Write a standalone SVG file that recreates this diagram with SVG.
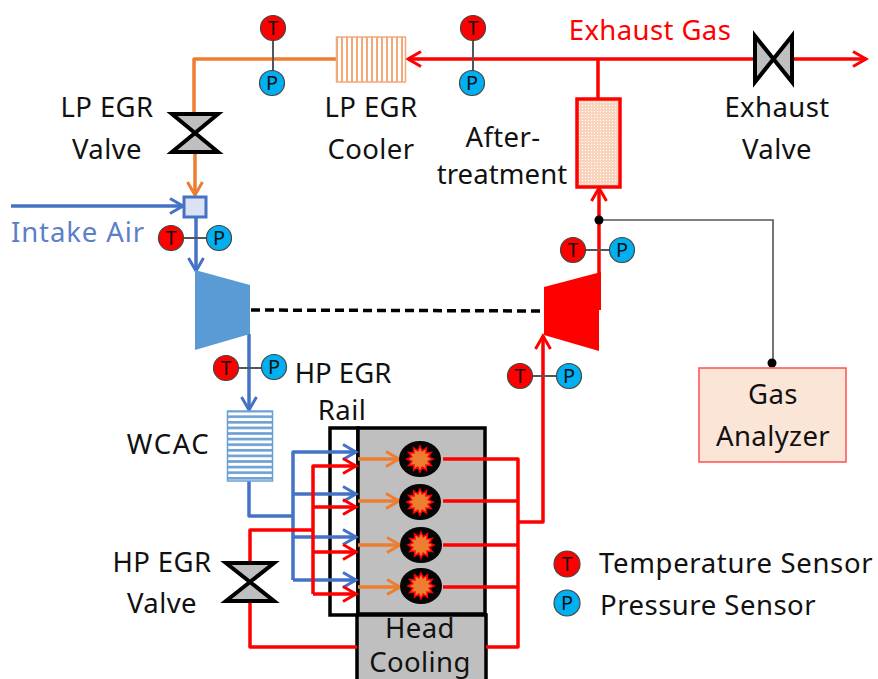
<svg xmlns="http://www.w3.org/2000/svg" width="878" height="679" viewBox="0 0 878 679">
<style>
text{font-family:"Noto Sans","Open Sans","Liberation Sans",sans-serif;font-size:27.5px;letter-spacing:.4px;fill:#111;text-anchor:middle}
.s{font-size:20px;letter-spacing:0}
.r{fill:#f00}.b{fill:#5b80c8;letter-spacing:.9px}
.T{fill:#f00;stroke:#444;stroke-width:1.2}
.P{fill:#00b0f0;stroke:#444;stroke-width:1.2}
.tie{stroke:#555;stroke-width:2;fill:none}
.valve{fill:#bfbfbf;stroke:#000;stroke-width:4;stroke-linejoin:miter}
.red,.blue,.org{fill:none;stroke-width:3.5;stroke-linejoin:round}
.red{stroke:#f00}.blue{stroke:#4472c4}.org{stroke:#ed7d31}
.ra{marker-end:url(#ar)}.ba{marker-end:url(#ab)}.oa{marker-end:url(#ao)}
.cyl{fill:#050505}
.burst{fill:#ed7d31;stroke:#f00;stroke-width:1.500}
.blk{fill:#bfbfbf;stroke:#000;stroke-width:3.5}
</style>
<defs>
<marker id="ar" markerUnits="userSpaceOnUse" markerWidth="20" markerHeight="20" refX="15" refY="10" orient="auto"><path d="M2,2.500 L15,10 L2,17.500" fill="none" stroke="#f00" stroke-width="3"/></marker>
<marker id="ab" markerUnits="userSpaceOnUse" markerWidth="20" markerHeight="20" refX="15" refY="10" orient="auto"><path d="M2,2.500 L15,10 L2,17.500" fill="none" stroke="#4472c4" stroke-width="3"/></marker>
<marker id="ao" markerUnits="userSpaceOnUse" markerWidth="20" markerHeight="20" refX="15" refY="10" orient="auto"><path d="M2,2.500 L15,10 L2,17.500" fill="none" stroke="#ed7d31" stroke-width="3"/></marker>
<pattern id="hv" width="5" height="10" patternUnits="userSpaceOnUse"><rect width="5" height="10" fill="#fff"/><rect x="1" width="2" height="10" fill="#f4a878"/></pattern>
<pattern id="hh" width="10" height="5.6" patternUnits="userSpaceOnUse"><rect width="10" height="5.6" fill="#fff"/><rect y="1" width="10" height="2.6" fill="#6a9fd6"/></pattern>
<pattern id="dot" width="3" height="3" patternUnits="userSpaceOnUse"><rect width="3" height="3" fill="#f9d5bd"/><rect width="1" height="1" fill="#fff"/></pattern>
<polygon id="star" points="13,0 8.2,2.2 11.3,6.500 6,6 6.500,11.3 2.2,8.2 0,13 -2.2,8.2 -6.500,11.3 -6,6 -11.3,6.500 -8.2,2.2 -13,0 -8.2,-2.2 -11.3,-6.500 -6,-6 -6.500,-11.3 -2.2,-8.2 0,-13 2.2,-8.2 6.500,-11.3 6,-6 11.3,-6.500 8.2,-2.2"/>
</defs>

<g id="engine">
<rect x="330" y="428" width="28" height="187" fill="#fff" stroke="#000" stroke-width="3.5"/>
<rect class="blk" x="358" y="428" width="127" height="186"/>
</g>
<g id="head">
<rect class="blk" x="357" y="615" width="129" height="70"/>
<text x="420" y="638">Head</text>
<text x="420" y="672">Cooling</text>
</g>

<g id="connectors">
<path class="org" d="M336,59H194V114"/>
<path class="org oa" d="M195,152V195"/>
<path class="blue ba" d="M11,206H183"/>
<path class="blue ba" d="M196,218V271"/>
<path class="blue ba" d="M249,334V410"/>
<path d="M251,310L545,311" fill="none" stroke="#000" stroke-width="3.5" stroke-dasharray="9,5"/>
<path class="red ra" d="M754,59H408"/>
<path class="red" d="M598,59V98"/>
<path class="red ra" d="M793,59H866"/>
<path class="red ra" d="M599,310V188"/>
<path class="red ra" d="M518,522H543V336"/>
<path class="blue" d="M249,481V516H293"/>
<path class="blue ba" d="M293,580V452H356"/>
<path class="blue ba" d="M293,494H356"/>
<path class="blue ba" d="M293,537H356"/>
<path class="blue ba" d="M293,580H356"/>
<path class="red" d="M250,562V530H313"/>
<path class="red ra" d="M313,594V466H356"/>
<path class="red ra" d="M313,507H356"/>
<path class="red ra" d="M313,552H356"/>
<path class="red ra" d="M313,594H356"/>
<path class="red" d="M250,602V647H357"/>
<path class="red" d="M443,459H518V647H486"/>
<path class="red" d="M443,501H518"/>
<path class="red" d="M443,545H518"/>
<path class="red" d="M443,587H518"/>
<path class="org oa" d="M358,459H399"/>
<path class="org oa" d="M358,501H399"/>
<path class="org oa" d="M358,545H400"/>
<path class="org oa" d="M358,587H400"/>
<path d="M599,220H773V363" fill="none" stroke="#555" stroke-width="1.6"/>
<circle cx="599" cy="220" r="4.5" fill="#000"/>
<circle cx="772" cy="363" r="4.5" fill="#000"/>
</g>

<g id="cylinder-1"><ellipse class="cyl" cx="420" cy="459" rx="21" ry="18"/><use href="#star" class="burst" x="420" y="459"/></g>
<g id="cylinder-2"><ellipse class="cyl" cx="420" cy="502" rx="21" ry="18"/><use href="#star" class="burst" x="420" y="502"/></g>
<g id="cylinder-3"><ellipse class="cyl" cx="421" cy="545" rx="21" ry="18"/><use href="#star" class="burst" x="421" y="545"/></g>
<g id="cylinder-4"><ellipse class="cyl" cx="421" cy="586" rx="21" ry="18"/><use href="#star" class="burst" x="421" y="586"/></g>

<g id="lp-egr-valve">
<path class="valve" d="M172,114H218L172,152H218Z"/>
<text x="107" y="117">LP EGR</text><text x="107" y="159">Valve</text>
</g>
<g id="lp-egr-cooler">
<rect x="336.500" y="37" width="69" height="45" fill="url(#hv)" stroke="#f4a878" stroke-width="1.500"/>
<text x="371" y="117">LP EGR</text><text x="371" y="159">Cooler</text>
</g>
<g id="exhaust-valve">
<path class="valve" d="M755,36V82L792,36V82Z"/>
<text x="777" y="117">Exhaust</text><text x="777" y="159">Valve</text>
</g>
<g id="aftertreatment">
<rect x="577" y="99" width="43" height="88" fill="url(#dot)" stroke="#f00" stroke-width="3.500"/>
<text x="503" y="147">After-</text><text x="502" y="184" style="letter-spacing:.1px">treatment</text>
</g>
<g id="mixer"><rect x="184" y="197" width="22" height="20" fill="#dae3f3" stroke="#4472c4" stroke-width="3"/></g>
<g id="compressor"><polygon points="195,270 250,285 250,334 195,350" fill="#5b9bd5"/></g>
<g id="turbine"><polygon points="544,287 601,272 601,310 599,310 599,351 544,335" fill="#f00"/></g>
<g id="wcac">
<rect x="227.500" y="411" width="45" height="70" fill="url(#hh)" stroke="#6a9fd6" stroke-width="1.500"/>
<text x="168.500" y="454" style="letter-spacing:1.6px">WCAC</text>
</g>
<g id="hp-egr-valve">
<path class="valve" d="M226,563H274L226,601H274Z"/>
<text x="162" y="572">HP EGR</text><text x="162" y="613">Valve</text>
</g>
<g id="gas-analyzer">
<rect x="699" y="368" width="147" height="94" fill="#fbe5d6" stroke="#ff5050" stroke-width="1.500"/>
<text x="773" y="404">Gas</text><text x="773" y="446">Analyzer</text>
</g>

<g id="sensors-lp-egr"><path class="tie" d="M273,28V83"/><circle class="T" cx="273" cy="28" r="12.500"/><text class="s" x="273" y="35">T</text><circle class="P" cx="272" cy="83" r="12.500"/><text class="s" x="272" y="90">P</text></g>
<g id="sensors-exhaust"><path class="tie" d="M473,28V83"/><circle class="T" cx="473" cy="28" r="12.500"/><text class="s" x="473" y="35">T</text><circle class="P" cx="472" cy="83" r="12.500"/><text class="s" x="472" y="90">P</text></g>
<g id="sensors-intake"><path class="tie" d="M171,238H219"/><circle class="T" cx="171" cy="238" r="12.500"/><text class="s" x="171" y="245">T</text><circle class="P" cx="219" cy="238" r="12.500"/><text class="s" x="219" y="245">P</text></g>
<g id="sensors-compressor"><path class="tie" d="M226,368H274"/><circle class="T" cx="226" cy="368" r="12.500"/><text class="s" x="226" y="375">T</text><circle class="P" cx="274" cy="367" r="12.500"/><text class="s" x="274" y="374">P</text></g>
<g id="sensors-turbine-in"><path class="tie" d="M520,376H569"/><circle class="T" cx="520" cy="376" r="12.500"/><text class="s" x="520" y="383">T</text><circle class="P" cx="569" cy="376" r="12.500"/><text class="s" x="569" y="383">P</text></g>
<g id="sensors-turbine-out"><path class="tie" d="M573,250H622"/><circle class="T" cx="573" cy="250" r="12.500"/><text class="s" x="573" y="257">T</text><circle class="P" cx="622" cy="250" r="12.500"/><text class="s" x="622" y="257">P</text></g>

<g id="labels">
<text class="r" x="650" y="40">Exhaust Gas</text>
<text class="b" x="78" y="242">Intake Air</text>
<text x="343" y="383" style="letter-spacing:0">HP EGR</text>
<text x="342" y="420">Rail</text>
</g>
<g id="legend">
<circle class="T" cx="567" cy="564" r="13"/><text class="s" x="567" y="571">T</text>
<circle class="P" cx="567" cy="603" r="13"/><text class="s" x="567" y="610">P</text>
<text x="599" y="573" style="text-anchor:start" textLength="274">Temperature Sensor</text>
<text x="600" y="615" style="text-anchor:start" textLength="216">Pressure Sensor</text>
</g>
</svg>
